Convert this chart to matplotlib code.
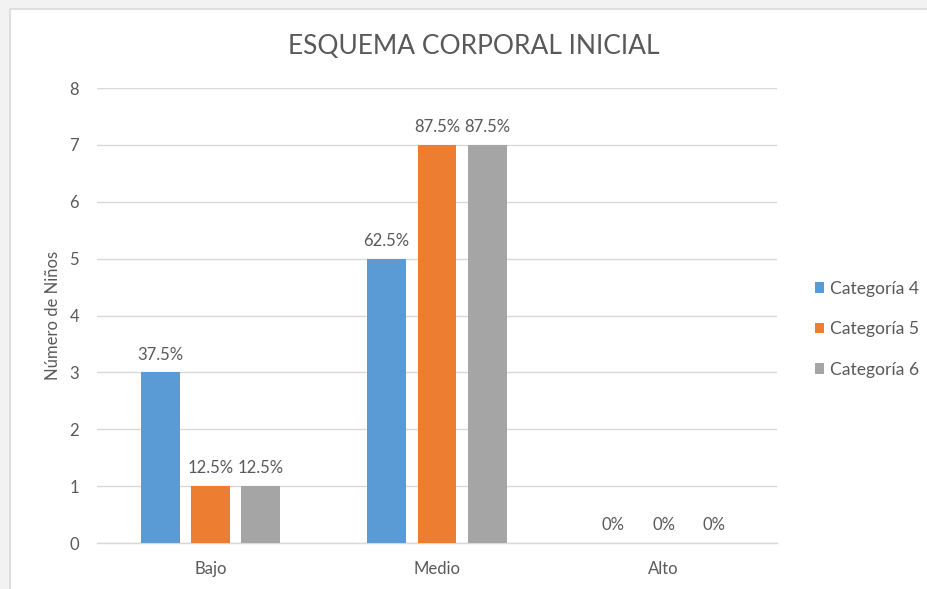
import matplotlib
matplotlib.use('Agg')
import matplotlib.pyplot as plt
import numpy as np
from matplotlib.patches import Rectangle

# data
niveles = ['Bajo', 'Medio', 'Alto']
series = ['Categoría 4', 'Categoría 5', 'Categoría 6']
cat4 = [3, 5, 0]
cat5 = [1, 7, 0]
cat6 = [1, 7, 0]
pct4 = ['37.5%', '62.5%', '0%']
pct5 = ['12.5%', '87.5%', '0%']
pct6 = ['12.5%', '87.5%', '0%']

colores = ['#5B9BD5', '#ED7D31', '#A5A5A5']
txt_col = '#595959'
fs = 12

plt.rcParams['font.family'] = ['Lato', 'DejaVu Sans']

fig = plt.figure(figsize=(9.27, 5.89), dpi=100, facecolor='#f2f2f2')
# white chart frame (screenshot border)
fig.patches.append(Rectangle((10 / 927, -0.01), 1.0, 1 - 9 / 589 + 0.01,
                             transform=fig.transFigure, facecolor='white',
                             edgecolor='#d9d9d9', linewidth=1.2, zorder=-10))

ax = fig.add_axes([97 / 927, 1 - 543 / 589, 680 / 927, 455 / 589])
ax.set_facecolor('none')

x = np.arange(len(niveles))
ancho = 0.172
paso = 0.222
for i, (vals, pcts) in enumerate(zip([cat4, cat5, cat6], [pct4, pct5, pct6])):
    pos = x + (i - 1) * paso
    ax.bar(pos, vals, ancho, color=colores[i], label=series[i], zorder=3)
    for p, v, t in zip(pos, vals, pcts):
        ax.text(p, v + 0.17, t, ha='center', va='bottom', fontsize=fs,
                color=txt_col)

ax.set_xlim(-0.5, 2.5)
ax.set_ylim(0, 8)
ax.set_yticks(range(0, 9))
ax.set_xticks(x)
ax.set_xticklabels(niveles)
ax.yaxis.grid(True, color='#d9d9d9', linewidth=1, zorder=0)
ax.tick_params(axis='both', length=0, labelsize=fs, colors=txt_col)
ax.tick_params(axis='y', pad=13)
ax.tick_params(axis='x', pad=13)
for s in ['top', 'right', 'left']:
    ax.spines[s].set_visible(False)
ax.spines['bottom'].set_color('#d9d9d9')
ax.spines['bottom'].set_linewidth(1)

ax.set_ylabel('Número de Niños', fontsize=fs, color=txt_col, labelpad=6)

fig.text(474 / 927, 1 - 47 / 589, 'ESQUEMA CORPORAL INICIAL', ha='center',
         va='center', fontsize=19, color=txt_col)

fig.legend(loc='center left', bbox_to_anchor=(799 / 927, 1 - 329 / 589),
           frameon=False, fontsize=12.6, labelcolor=txt_col,
           handlelength=0.55, handleheight=0.55, handletextpad=0.35,
           labelspacing=1.4)

fig.savefig('out.png', dpi=100, facecolor=fig.get_facecolor())
